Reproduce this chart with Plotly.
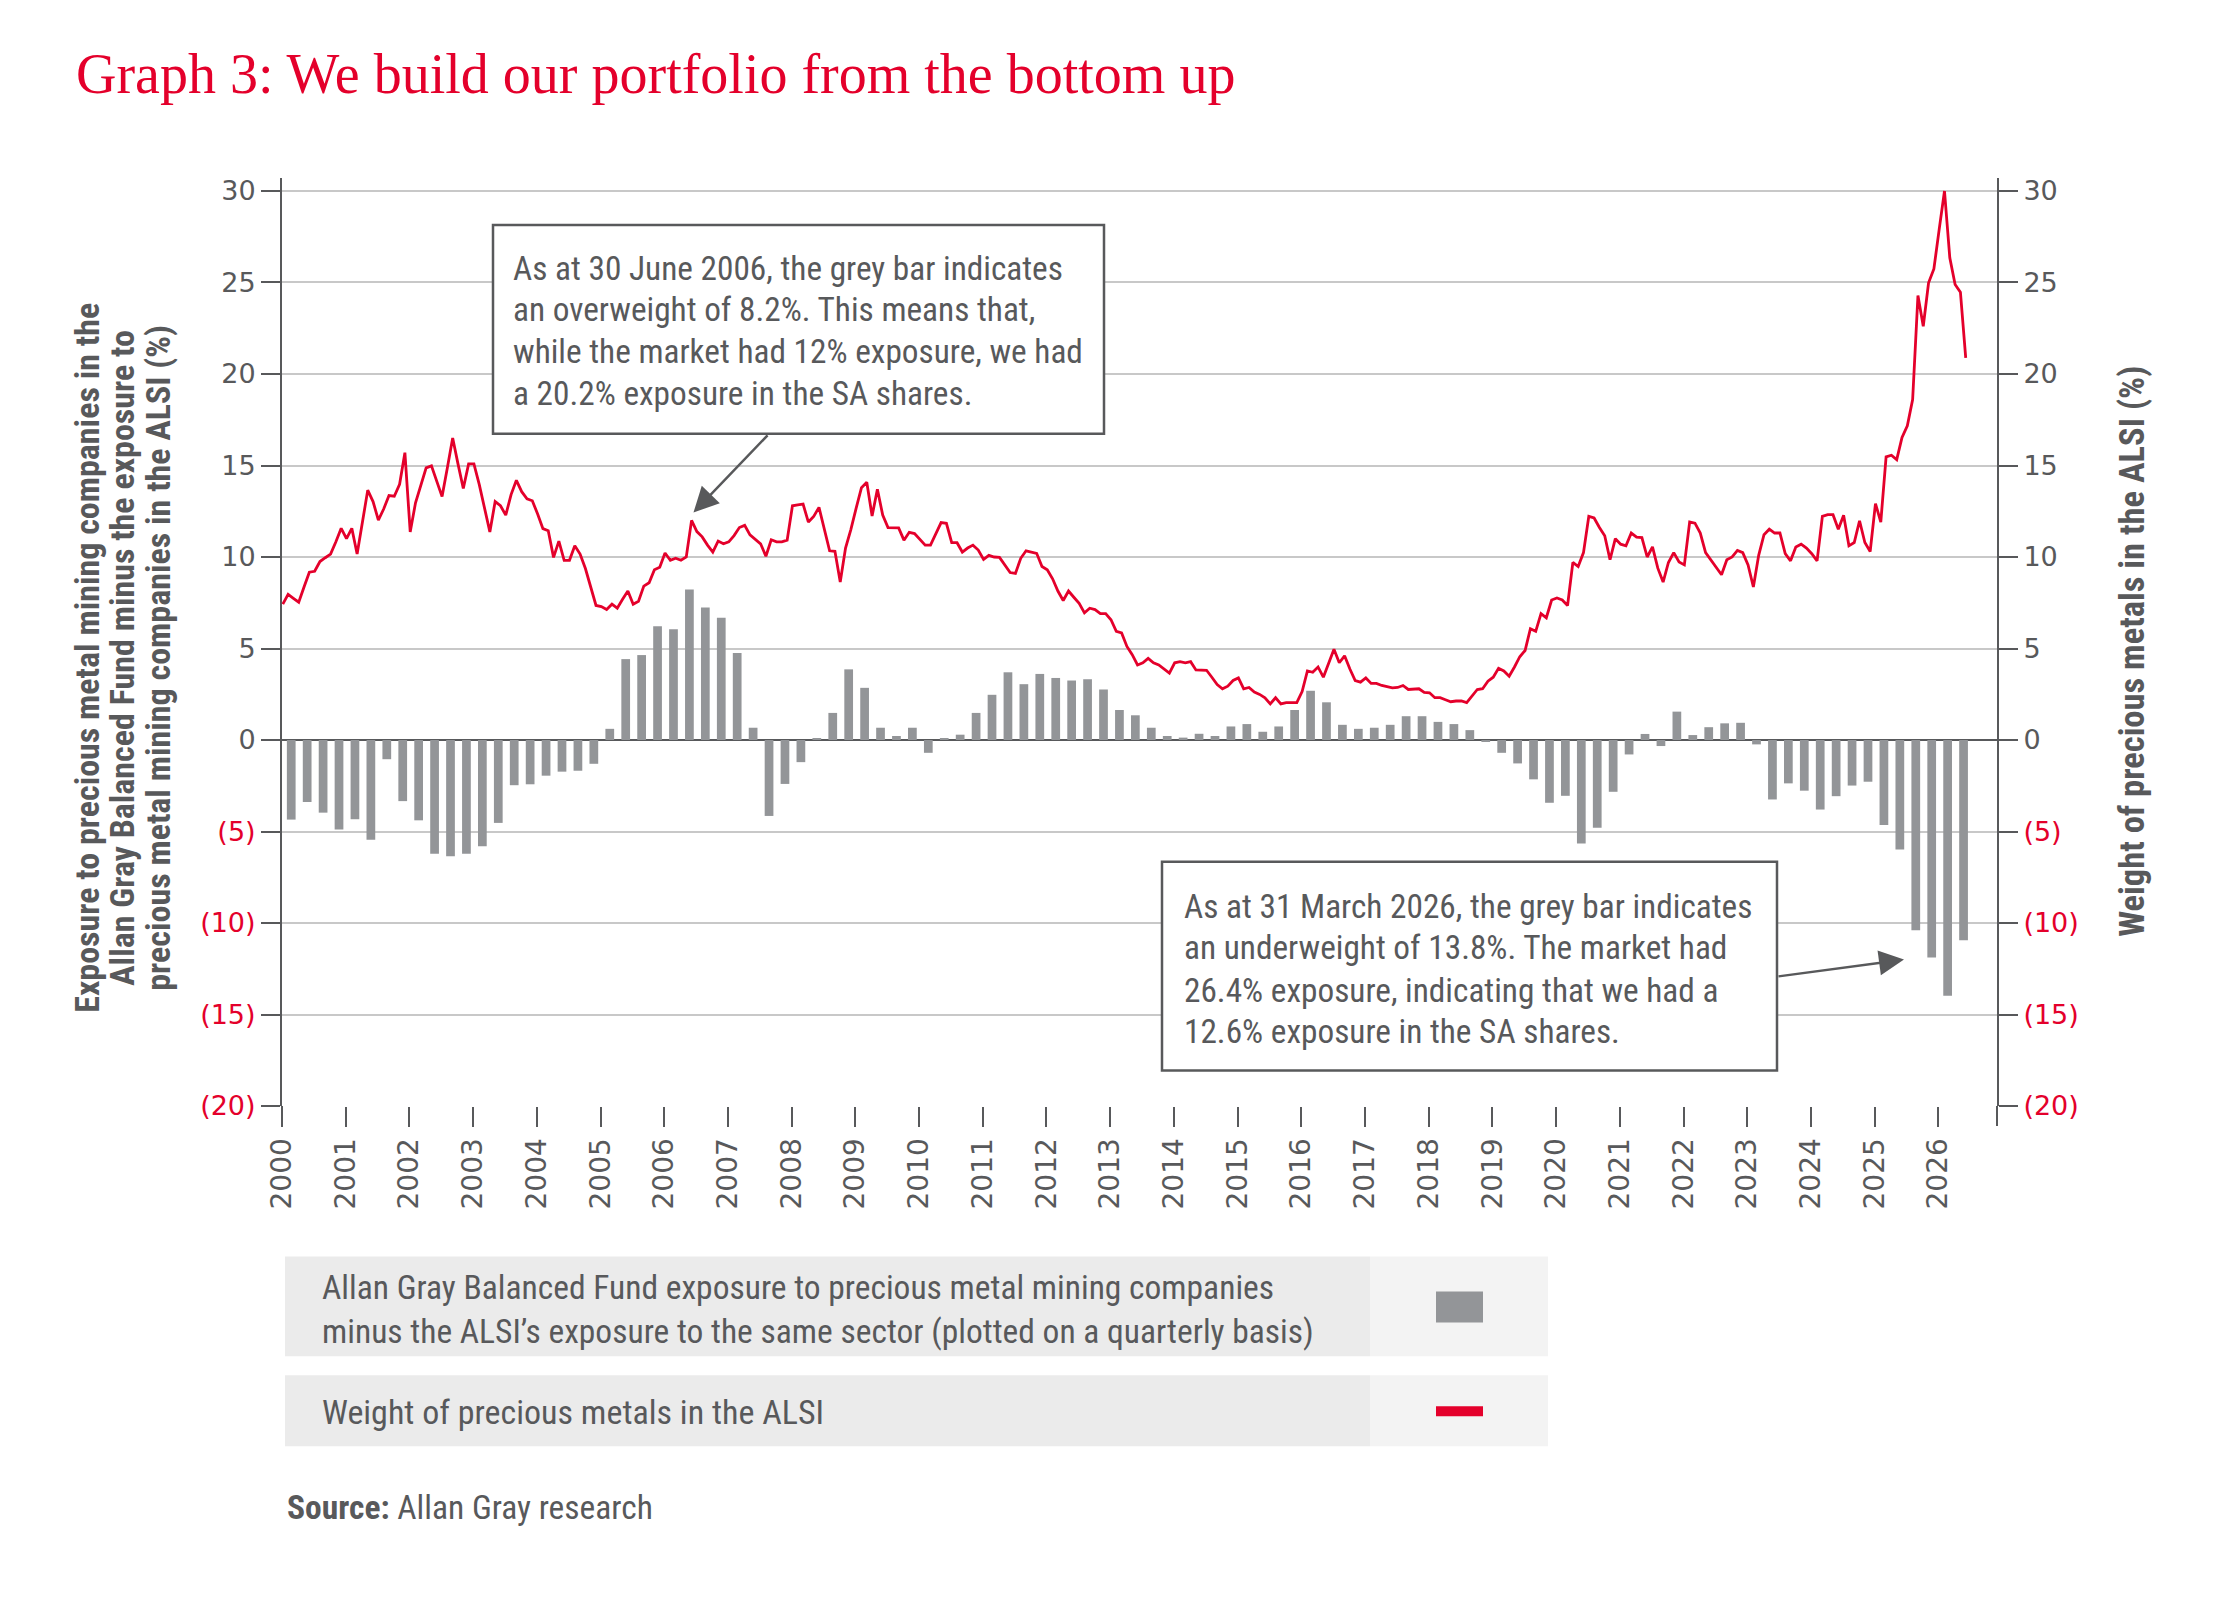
import plotly.graph_objects as go

# ---------------- data ----------------
years = list(range(2000, 2027))
year_labels = [str(y) for y in years]
y_ticks = [-20, -15, -10, -5, 0, 5, 10, 15, 20, 25, 30]
y_tick_labels = ["(20)", "(15)", "(10)", "(5)", "0", "5", "10", "15", "20", "25", "30"]

# quarterly, Q1 2000 .. Q2 2026 (fund minus ALSI exposure, %)
bar_values = [
    -4.35, -3.39, -3.97, -4.89, -4.33, -5.45, -1.05, -3.34, -4.39, -6.21,
    -6.35, -6.21, -5.81, -4.53, -2.47, -2.42, -1.95, -1.73, -1.68, -1.30,
    0.61, 4.42, 4.64, 6.21, 6.05, 8.23, 7.24, 6.68, 4.75, 0.67,
    -4.15, -2.40, -1.21, 0.11, 1.48, 3.86, 2.85, 0.67, 0.22, 0.67,
    -0.70, 0.11, 0.29, 1.48, 2.47, 3.70, 3.05, 3.61, 3.39, 3.25,
    3.32, 2.76, 1.64, 1.35, 0.67, 0.22, 0.13, 0.34, 0.22, 0.74,
    0.87, 0.45, 0.74, 1.64, 2.69, 2.06, 0.83, 0.61, 0.67, 0.83,
    1.30, 1.30, 0.99, 0.87, 0.54, -0.11, -0.70, -1.28, -2.15, -3.43,
    -3.05, -5.65, -4.80, -2.83, -0.79, 0.33, -0.33, 1.55, 0.27, 0.70,
    0.91, 0.94, -0.24, -3.25, -2.37, -2.77, -3.80, -3.07, -2.49, -2.28,
    -4.65, -5.99, -10.40, -11.88, -13.98, -10.94,
]

# monthly, Jan 2000 onwards (weight of precious metals in the ALSI, %)
line_values = [
    7.42, 7.96, 7.74, 7.53, 8.36, 9.17, 9.22, 9.75, 9.96, 10.16,
    10.83, 11.57, 11.00, 11.57, 10.16, 11.95, 13.65, 13.03, 12.02, 12.62,
    13.36, 13.32, 13.97, 15.70, 11.37, 12.96, 13.97, 14.87, 14.98, 14.13,
    13.30, 14.87, 16.50, 15.09, 13.74, 15.09, 15.09, 13.97, 12.74, 11.37,
    13.03, 12.80, 12.29, 13.41, 14.19, 13.57, 13.18, 13.07, 12.35, 11.55,
    11.43, 9.98, 10.87, 9.82, 9.82, 10.61, 10.16, 9.37, 8.36, 7.35,
    7.29, 7.13, 7.42, 7.20, 7.69, 8.14, 7.42, 7.58, 8.41, 8.59,
    9.30, 9.44, 10.22, 9.82, 9.93, 9.82, 10.00, 12.00, 11.39, 11.10,
    10.65, 10.27, 10.87, 10.72, 10.83, 11.17, 11.61, 11.73, 11.21, 10.94,
    10.72, 10.04, 10.94, 10.83, 10.83, 10.92, 12.80, 12.85, 12.89, 11.91,
    12.22, 12.71, 11.50, 10.34, 10.31, 8.63, 10.49, 11.50, 12.67, 13.79,
    14.08, 12.24, 13.70, 12.29, 11.61, 11.61, 11.59, 10.92, 11.35, 11.28,
    10.94, 10.65, 10.65, 11.28, 11.88, 11.84, 10.78, 10.78, 10.27, 10.49,
    10.65, 10.38, 9.87, 10.09, 10.00, 9.98, 9.53, 9.15, 9.10, 9.93,
    10.34, 10.27, 10.20, 9.48, 9.30, 8.81, 8.14, 7.62, 8.14, 7.80,
    7.47, 6.95, 7.20, 7.13, 6.91, 6.91, 6.57, 5.94, 5.85, 5.11,
    4.66, 4.10, 4.22, 4.46, 4.22, 4.10, 3.88, 3.65, 4.22, 4.28,
    4.22, 4.28, 3.83, 3.83, 3.81, 3.43, 3.03, 2.80, 2.94, 3.25,
    3.39, 2.80, 2.87, 2.62, 2.49, 2.31, 1.97, 2.31, 1.97, 2.04,
    2.04, 2.04, 2.65, 3.77, 3.70, 3.99, 3.43, 4.22, 4.96, 4.22,
    4.60, 3.88, 3.25, 3.16, 3.39, 3.09, 3.09, 2.98, 2.91, 2.85,
    2.87, 2.98, 2.76, 2.80, 2.80, 2.60, 2.58, 2.31, 2.31, 2.20,
    2.09, 2.13, 2.13, 2.04, 2.38, 2.76, 2.80, 3.21, 3.43, 3.92,
    3.77, 3.48, 3.99, 4.55, 4.89, 6.08, 5.94, 6.91, 6.68, 7.65,
    7.76, 7.65, 7.35, 9.71, 9.48, 10.24, 12.22, 12.13, 11.61, 11.16,
    9.85, 11.00, 10.70, 10.61, 11.31, 11.09, 11.06, 10.00, 10.55, 9.39,
    8.63, 9.70, 10.24, 9.73, 9.57, 11.91, 11.85, 11.31, 10.24, 9.85,
    9.45, 9.03, 9.85, 10.00, 10.36, 10.24, 9.57, 8.36, 10.09, 11.22,
    11.52, 11.31, 11.31, 10.18, 9.79, 10.55, 10.70, 10.49, 10.18, 9.79,
    12.22, 12.31, 12.31, 11.52, 12.28, 10.61, 10.79, 11.98, 10.79, 10.30,
    12.92, 11.91, 15.47, 15.56, 15.32, 16.53, 17.17, 18.60, 24.29, 22.61,
    24.98, 25.74, 27.90, 30.00, 26.35, 24.89, 24.47, 20.88,
]

title_text = "Graph 3: We build our portfolio from the bottom up"
left_title_lines = [
    "Exposure to precious metal mining companies in the",
    "Allan Gray Balanced Fund minus the exposure to",
    "precious metal mining companies in the ALSI (%)",
]
right_title = "Weight of precious metals in the ALSI (%)"
note1_lines = [
    "As at 30 June 2006, the grey bar indicates",
    "an overweight of 8.2%. This means that,",
    "while the market had 12% exposure, we had",
    "a 20.2% exposure in the SA shares.",
]
note2_lines = [
    "As at 31 March 2026, the grey bar indicates",
    "an underweight of 13.8%. The market had",
    "26.4% exposure, indicating that we had a",
    "12.6% exposure in the SA shares.",
]
legend_bar_lines = [
    "Allan Gray Balanced Fund exposure to precious metal mining companies",
    "minus the ALSI\u2019s exposure to the same sector (plotted on a quarterly basis)",
]
legend_line_text = "Weight of precious metals in the ALSI"
source_text = "<b>Source:</b> Allan Gray research"

# ---------------- style ----------------
RED = "#e4002b"
BAR = "#939598"
TXT = "#58595b"
AXIS = "#58595b"
GRID = "#c8c8c8"
COND = "Roboto Condensed, Liberation Sans Narrow, DejaVu Sans Condensed, Arial Narrow, sans-serif"
TICKF = "DejaVu Sans, Verdana, sans-serif"
SERIF = "Liberation Serif, Times New Roman, serif"

W, H = 2233, 1598
L, R, T, B = 282, 1997, 178, 1106.5
Y0, Y1 = -20, 30.71
X0, X1 = 2000, 2026.92


def pxx(v):
    return (v - L) / (R - L)


def pxy(v):
    return (B - v) / (B - T)


bar_x = [2000 + (i + 0.58) / 4 for i in range(len(bar_values))]
line_x = [2000 + (i + 0.15) / 12 for i in range(len(line_values))]

fig = go.Figure()
fig.add_trace(go.Bar(x=bar_x, y=bar_values, width=0.137, marker=dict(color=BAR, line=dict(width=0)),
                     yaxis="y", hoverinfo="skip"))
fig.add_trace(go.Scatter(x=line_x, y=line_values, mode="lines", line=dict(color=RED, width=2.8),
                         yaxis="y2", hoverinfo="skip"))

ytext = [f'<span style="color:{RED}">{t}</span>' if v < 0 else t for v, t in zip(y_ticks, y_tick_labels)]
ytickfont = dict(family=TICKF, size=27, color=TXT)
xtickfont = dict(family=TICKF, size=28, color=TXT)

fig.update_layout(
    width=W, height=H,
    margin=dict(l=L, r=W - R, t=T, b=H - B, pad=0),
    paper_bgcolor="white", plot_bgcolor="white",
    showlegend=False,
    xaxis=dict(range=[X0, X1], tickmode="array", tickvals=years, ticktext=year_labels,
               tickangle=-90, ticks="outside", ticklen=20, tickwidth=2, tickcolor=AXIS,
               showgrid=False, zeroline=False, showline=False, tickfont=xtickfont,
               ticklabelstandoff=0),
    yaxis=dict(range=[Y0, Y1], tickmode="array", tickvals=y_ticks, ticktext=ytext,
               ticks="outside", ticklen=19, tickwidth=2, tickcolor=AXIS,
               showline=True, linecolor=AXIS, linewidth=2,
               showgrid=True, gridcolor=GRID, gridwidth=1.6,
               zeroline=True, zerolinecolor=AXIS, zerolinewidth=2.2,
               tickfont=ytickfont, ticklabelstandoff=0),
    yaxis2=dict(range=[Y0, Y1], overlaying="y", side="right", tickmode="array", tickvals=y_ticks,
                ticktext=ytext, ticks="outside", ticklen=19, tickwidth=2, tickcolor=AXIS,
                showline=True, linecolor=AXIS, linewidth=2, showgrid=False, zeroline=False,
                tickfont=ytickfont, ticklabelstandoff=0),
)

shapes = []
# extend axis lines down to the tick length like the original
for xp in (L, R):
    shapes.append(dict(type="line", xref="paper", yref="paper", x0=pxx(xp), x1=pxx(xp),
                       y0=pxy(B), y1=pxy(B + 20), line=dict(color=AXIS, width=2)))
# annotation boxes
for (x0, y0, x1, y1) in [(493, 225, 1104, 434), (1162, 862, 1777, 1071)]:
    shapes.append(dict(type="rect", xref="paper", yref="paper", x0=pxx(x0), x1=pxx(x1),
                       y0=pxy(y1), y1=pxy(y0), line=dict(color=AXIS, width=2.5),
                       fillcolor="white", layer="above"))
# legend table
legend_cells = [
    (285, 1257, 1370, 1357, "#ebebeb"), (1370, 1257, 1548, 1357, "#f3f3f3"),
    (285, 1376, 1370, 1447, "#ebebeb"), (1370, 1376, 1548, 1447, "#f3f3f3"),
]
for (x0, y0, x1, y1, c) in legend_cells:
    shapes.append(dict(type="rect", xref="paper", yref="paper", x0=pxx(x0), x1=pxx(x1),
                       y0=pxy(y1), y1=pxy(y0), line=dict(width=0), fillcolor=c, layer="above"))
shapes.append(dict(type="rect", xref="paper", yref="paper", x0=pxx(1436), x1=pxx(1483),
                   y0=pxy(1323), y1=pxy(1292), line=dict(width=0), fillcolor=BAR, layer="above"))
shapes.append(dict(type="rect", xref="paper", yref="paper", x0=pxx(1436), x1=pxx(1483),
                   y0=pxy(1417), y1=pxy(1407), line=dict(width=0), fillcolor=RED, layer="above"))
fig.update_layout(shapes=shapes)


def text(xp, yp, s, size, family=COND, color=TXT, xanchor="left", yanchor="middle", angle=0):
    fig.add_annotation(xref="paper", yref="paper", x=pxx(xp), y=pxy(yp), text=s, showarrow=False,
                       xanchor=xanchor, yanchor=yanchor, textangle=angle, align="left",
                       font=dict(family=family, size=size, color=color))


# title
text(74, 74, title_text, 56, family=SERIF, color=RED)
# axis titles
for xp, s in zip((87, 122, 158), left_title_lines):
    text(xp, 658, f"<b>{s}</b>", 34, xanchor="center", angle=-90)
text(2132, 652, f"<b>{right_title}</b>", 34.5, xanchor="center", angle=-90)
# notes
for yp, s in zip((269, 310, 352, 394), note1_lines):
    text(511, yp, s, 33.3)
for yp, s in zip((907, 948, 991, 1032), note2_lines):
    text(1182, yp, s, 33.3)
# legend text (two-line entry kept as one text block)
text(320, 1310, "<br>".join(legend_bar_lines), 33.5)
text(320, 1413, legend_line_text, 34)
text(285, 1508, source_text, 33.5)

# arrows
for (tx, ty, sx, sy) in [(693.5, 512.7, 769, 434), (1904, 960, 1777, 977)]:
    fig.add_annotation(xref="paper", yref="paper", x=pxx(tx), y=pxy(ty), ax=sx - tx, ay=sy - ty,
                       axref="pixel", ayref="pixel", text="", showarrow=True, arrowhead=2,
                       arrowsize=2, arrowwidth=2.5, arrowcolor=AXIS, standoff=0)

fig.write_html("out.html")
